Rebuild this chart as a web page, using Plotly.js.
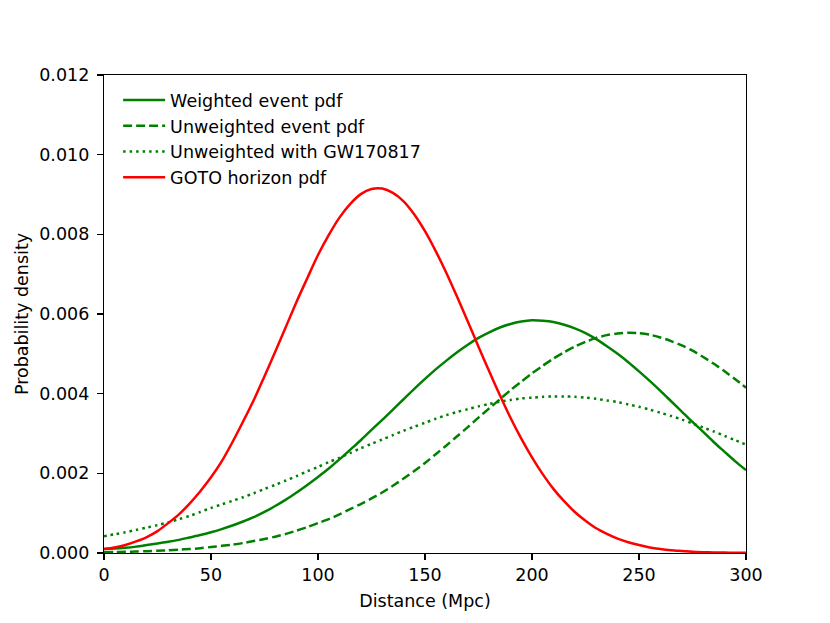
<!DOCTYPE html>
<html>
<head>
<meta charset="utf-8">
<script src="https://cdn.plot.ly/plotly-3.0.1.min.js"></script>
<style>html,body{margin:0;padding:0;background:#fff;}#chart{width:830px;height:623px;}</style>
</head>
<body>
<div id="chart"></div>
<script>
const distance = [0,5,10,15,20,25,30,35,40,45,50,55,60,65,70,75,80,85,90,95,100,105,110,115,120,125,130,135,140,145,150,155,160,165,170,175,180,185,190,195,200,205,210,215,220,225,230,235,240,245,250,255,260,265,270,275,280,285,290,295,300];
const weightedPdf = [0.0001,0.00011,0.00013,0.00016,0.0002,0.00024,0.00028,0.00033,0.00039,0.00045,0.00052,0.0006,0.00069,0.00079,0.0009,0.00103,0.00118,0.00134,0.00152,0.00171,0.00191,0.00212,0.00235,0.00259,0.00283,0.00309,0.00334,0.0036,0.00386,0.00412,0.00437,0.00461,0.00483,0.00504,0.00523,0.0054,0.00554,0.00566,0.00575,0.00581,0.00584,0.00583,0.0058,0.00573,0.00564,0.00552,0.00537,0.00519,0.005,0.00479,0.00456,0.00432,0.00407,0.00381,0.00355,0.00329,0.00304,0.00278,0.00254,0.0023,0.00208];
const unweightedPdf = [0.000018,0.000023,0.000029,0.000036,0.000045,0.000055,0.000068,0.000083,0.0001,0.00012,0.00015,0.00018,0.00021,0.00025,0.0003,0.00035,0.00041,0.00048,0.00056,0.00065,0.00075,0.00085,0.00097,0.0011,0.00123,0.00137,0.00152,0.00169,0.00187,0.00206,0.00226,0.00248,0.0027,0.00293,0.00316,0.0034,0.00363,0.00386,0.00409,0.0043,0.00451,0.0047,0.00488,0.00504,0.00518,0.0053,0.0054,0.00547,0.00551,0.00553,0.00552,0.00548,0.00541,0.00532,0.00521,0.00508,0.00492,0.00475,0.00456,0.00436,0.00415];
const gw170817Pdf = [0.00042,0.00047,0.00052,0.00058,0.00064,0.0007,0.00077,0.00085,0.00093,0.00103,0.00113,0.00122,0.00131,0.0014,0.0015,0.00161,0.00171,0.00182,0.00193,0.00205,0.00216,0.00228,0.00239,0.00251,0.00263,0.00274,0.00285,0.00296,0.00307,0.00317,0.00327,0.00337,0.00346,0.00354,0.00361,0.00368,0.00374,0.0038,0.00384,0.00388,0.0039,0.00392,0.00393,0.00393,0.00392,0.0039,0.00387,0.00383,0.00379,0.00373,0.00367,0.0036,0.00352,0.00344,0.00335,0.00325,0.00315,0.00305,0.00294,0.00283,0.00272];
const gotoPdf = [0.0001,0.00014,0.0002,0.00029,0.0004,0.00055,0.00075,0.00097,0.00124,0.00155,0.0019,0.0023,0.00278,0.0033,0.00384,0.00444,0.00505,0.00568,0.00631,0.0069,0.00748,0.00798,0.00842,0.00876,0.00901,0.00914,0.00915,0.00904,0.00883,0.0085,0.00808,0.00758,0.00703,0.00643,0.00581,0.00518,0.00456,0.00396,0.00339,0.00287,0.0024,0.00198,0.00161,0.0013,0.00103,0.00081,0.00062,0.00048,0.00036,0.00027,0.0002,0.00014,0.0001,0.00007,0.00005,0.00003,0.00002,0.000015,0.00001,0.000006,0.000004];
const seriesNames = ["Weighted event pdf","Unweighted event pdf","Unweighted with GW170817","GOTO horizon pdf"];
const xTicks = [0,50,100,150,200,250,300];
const yTicks = [0,0.002,0.004,0.006,0.008,0.010,0.012];

const font = "DejaVu Sans, sans-serif";
const fs = 17.5;
const mk = (y, name, color, dash) => ({
  x: distance, y: y, name: name, type: "scatter", mode: "lines",
  line: {color: color, width: 2.5, dash: dash, shape: "spline", smoothing: 0.8}
});
const data = [
  mk(weightedPdf, seriesNames[0], "#008000", "solid"),
  mk(unweightedPdf, seriesNames[1], "#008000", "9px,4px"),
  mk(gw170817Pdf, seriesNames[2], "#008000", "2.5px,4px"),
  mk(gotoPdf, seriesNames[3], "#ff0000", "solid")
];
const axisCommon = {
  showgrid: false, zeroline: false, showline: true, linecolor: "#000", linewidth: 1.2,
  mirror: true, ticks: "outside", ticklen: 6, tickwidth: 1.2, tickcolor: "#000",
  tickfont: {family: font, size: fs, color: "#000"}
};
const layout = {
  width: 830, height: 623,
  margin: {l: 104, r: 84, t: 75, b: 70, pad: 0},
  paper_bgcolor: "#fff", plot_bgcolor: "#fff",
  font: {family: font, size: fs, color: "#000"},
  showlegend: true,
  legend: {x: 0.022, y: 0.985, xanchor: "left", yanchor: "top", bgcolor: "rgba(255,255,255,0)",
           font: {family: font, size: fs, color: "#000"}, tracegroupgap: 0, itemwidth: 42},
  xaxis: Object.assign({}, axisCommon, {range: [0, 300], tickvals: xTicks, ticktext: xTicks.map(String),
    title: {text: "Distance (Mpc)", font: {family: font, size: fs}, standoff: 10}}),
  yaxis: Object.assign({}, axisCommon, {range: [0, 0.012], tickvals: yTicks, ticktext: yTicks.map(v => v.toFixed(3)),
    ticklabelstandoff: 4,
    title: {text: "Probability density", font: {family: font, size: fs}, standoff: 6}})
};
Plotly.newPlot("chart", data, layout, {displayModeBar: false, staticPlot: true});
</script>
</body>
</html>
